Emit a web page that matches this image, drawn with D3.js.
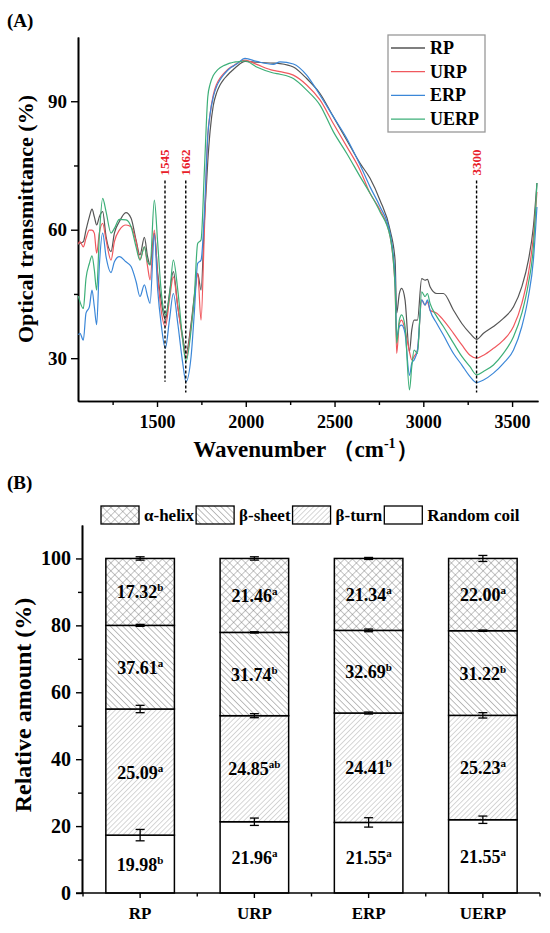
<!DOCTYPE html>
<html>
<head>
<meta charset="utf-8">
<script src="https://cdn.jsdelivr.net/npm/d3@7"></script>
<style>
  body { margin: 0; background: #fff; }
  svg { display: block; font-family: "Liberation Serif", "Times New Roman", serif; font-weight: bold; }
</style>
</head>
<body>
<div id="chart"></div>
<script>
// ---------- (A) FTIR spectra ----------
var wavenumbers = [
  1057, 1066, 1085, 1100, 1119, 1134, 1147, 1160, 1175, 1194,
  1213, 1241, 1260, 1288, 1325, 1354, 1382, 1404, 1429, 1447,
  1461, 1485, 1504, 1523, 1547, 1570, 1592, 1617, 1645, 1663,
  1692, 1710, 1729, 1748, 1767, 1786, 1799, 1817, 1836, 1855,
  1874, 1893, 1911, 1930, 1949, 1996, 2061, 2155, 2193, 2268,
  2343, 2418, 2493, 2569, 2644, 2700, 2756, 2813, 2841, 2850,
  2865, 2878, 2897, 2922, 2935, 2948, 2967, 2991, 3010, 3023,
  3038, 3076, 3113, 3170, 3217, 3263, 3300, 3339, 3395, 3451,
  3508, 3555, 3592, 3620, 3640
];

var rp = [
  56.5, 56.8, 57.2, 59.9, 63.0, 64.8, 63.0, 61.1, 63.0, 64.2,
  58.4, 54.9, 59.2, 61.9, 64.0, 62.7, 57.6, 54.1, 58.2, 53.7,
  51.8, 59.2, 49.8, 43.6, 38.9, 45.1, 50.2, 42.0, 35.0, 31.1,
  38.1, 44.4, 49.8, 45.9, 62.0, 76.0, 83.0, 89.0, 92.0, 93.8,
  95.0, 95.9, 96.7, 97.4, 98.1, 99.3, 99.1, 98.9, 98.8, 98.0,
  95.3, 91.8, 86.4, 80.9, 75.5, 72.0, 66.9, 59.9, 52.9, 40.5,
  45.1, 46.3, 43.6, 31.5, 36.6, 38.9, 38.9, 48.6, 48.2, 48.4,
  46.7, 45.1, 45.1, 41.2, 38.1, 35.8, 34.4, 35.8, 37.4, 39.3,
  42.0, 46.7, 52.9, 60.7, 70.9
];

var urp = [
  56.7, 57.2, 56.0, 58.0, 59.9, 59.9, 59.2, 54.5, 59.2, 61.5,
  57.6, 52.9, 57.2, 59.9, 61.1, 60.7, 57.2, 53.1, 56.0, 51.4,
  48.3, 59.9, 49.0, 41.3, 37.4, 43.6, 49.0, 42.0, 34.2, 30.0,
  37.4, 43.6, 49.8, 38.9, 60.0, 82.0, 87.0, 91.5, 94.0, 95.4,
  96.4, 97.2, 97.8, 98.3, 98.8, 99.6, 98.6, 97.2, 96.9, 96.1,
  93.8, 90.3, 84.8, 79.4, 73.9, 68.5, 64.6, 58.4, 46.7, 31.1,
  38.1, 38.9, 36.6, 31.5, 29.6, 30.4, 31.9, 43.6, 42.4, 43.2,
  41.2, 40.5, 38.9, 35.8, 33.1, 30.7, 30.0, 30.7, 32.3, 34.2,
  37.4, 42.8, 49.8, 58.4, 68.8
];

var erp = [
  35.5, 35.8, 34.2, 40.5, 42.0, 45.9, 42.0, 37.8, 51.4, 59.2,
  53.7, 50.0, 52.5, 53.7, 52.5, 51.4, 47.9, 44.4, 47.1, 44.4,
  42.8, 58.8, 45.9, 38.1, 32.3, 38.9, 45.1, 38.1, 28.8, 24.5,
  30.4, 40.5, 52.1, 52.9, 64.0, 82.0, 87.0, 91.0, 93.5, 95.0,
  96.1, 97.0, 97.7, 98.2, 98.7, 100.0, 99.3, 98.6, 99.2, 98.7,
  96.1, 91.4, 86.4, 81.3, 75.1, 70.0, 65.4, 59.1, 49.0, 35.0,
  37.4, 37.7, 35.8, 26.0, 28.8, 29.6, 31.9, 43.6, 42.4, 43.6,
  41.2, 38.1, 35.4, 31.1, 28.4, 25.7, 24.3, 24.9, 26.5, 28.8,
  31.9, 37.4, 44.4, 52.9, 65.3
];

var uerp = [
  44.5, 43.2, 41.6, 48.6, 52.1, 53.9, 50.6, 45.9, 58.4, 67.3,
  64.2, 59.2, 60.3, 62.4, 62.3, 60.7, 56.0, 52.9, 56.0, 52.5,
  51.8, 66.9, 56.8, 45.9, 40.1, 44.4, 52.9, 45.9, 34.2, 29.2,
  36.6, 44.4, 56.8, 57.6, 74.0, 91.0, 94.0, 96.0, 97.1, 97.8,
  98.3, 98.6, 98.9, 99.1, 99.2, 99.4, 98.0, 96.6, 96.3, 95.3,
  92.6, 89.1, 82.9, 77.8, 72.4, 68.5, 64.2, 58.4, 46.7, 33.5,
  38.9, 40.1, 37.4, 22.6, 28.0, 31.9, 31.1, 45.5, 44.4, 45.1,
  42.8, 39.7, 37.4, 33.5, 30.4, 28.0, 26.1, 26.9, 28.4, 31.1,
  35.0, 40.5, 47.5, 56.0, 70.9
];

var seriesNames = ["RP", "URP", "ERP", "UERP"];
var seriesColors = ["#555555", "#f0585e", "#3b87d8", "#3daf78"];

var peakWaves = [1545, 1662, 3300];
var peakBottoms = [24.5, 22, 22];
var peakTop = 71.5;

var xTicksA = [1500, 2000, 2500, 3000, 3500];
var xMinorA = [1250, 1750, 2250, 2750, 3250];
var yTicksA = [30, 60, 90];
var yMinorA = [45, 75];

// ---------- (B) secondary structure ----------
var groups = ["RP", "URP", "ERP", "UERP"];
var structKeys = ["coil", "turn", "sheet", "helix"];
var coilPct = [17.3, 21.3, 21.1, 21.9];
var turnPct = [37.7, 31.7, 32.7, 31.2];
var sheetPct = [25.0, 24.9, 24.7, 25.3];
var helixPct = [20.0, 22.1, 21.5, 21.6];
var coilErr = [1.7, 1.1, 1.4, 1.1];
var turnErr = [1.1, 0.6, 0.3, 0.8];
var sheetErr = [0.3, 0.2, 0.4, 0.2];
var helixErr = [0.5, 0.5, 0.3, 0.9];
var coilLab = ["19.98", "21.96", "21.55", "21.55"];
var coilSup = ["b", "a", "a", "a"];
var turnLab = ["25.09", "24.85", "24.41", "25.23"];
var turnSup = ["a", "ab", "b", "a"];
var sheetLab = ["37.61", "31.74", "32.69", "31.22"];
var sheetSup = ["a", "b", "b", "b"];
var helixLab = ["17.32", "21.46", "21.34", "22.00"];
var helixSup = ["b", "a", "a", "a"];
var legendNames = ["α-helix", "β-sheet", "β-turn", "Random coil"];
var legendKeys = ["helix", "sheet", "turn", "coil"];
var yTicksB = [0, 20, 40, 60, 80, 100];
var yMinorB = [10, 30, 50, 70, 90];

var svg = d3.select("#chart").append("svg")
  .attr("width", 550)
  .attr("height", 933);

// hatch patterns
var defs = svg.append("defs");
function hatch(id, size, angle, color) {
  var p = defs.append("pattern")
    .attr("id", id)
    .attr("patternUnits", "userSpaceOnUse")
    .attr("width", size)
    .attr("height", size)
    .attr("patternTransform", "rotate(" + angle + ")");
  p.append("rect").attr("width", size).attr("height", size).attr("fill", "#fff");
  p.append("line")
    .attr("x1", 0).attr("y1", 0).attr("x2", 0).attr("y2", size)
    .attr("stroke", color).attr("stroke-width", 0.8);
  return p;
}
hatch("turnPat", 3.6, 45, "#9a9a9a");
hatch("sheetPat", 4.4, -45, "#5a5a5a");
var cp = hatch("helixPat", 5.6, 45, "#707070");
cp.append("line")
  .attr("x1", 0).attr("y1", 0).attr("x2", 5.6).attr("y2", 0)
  .attr("stroke", "#707070").attr("stroke-width", 0.8);

var fills = { coil: "#fff", turn: "url(#turnPat)", sheet: "url(#sheetPat)", helix: "url(#helixPat)" };

function styleAxis(g, size) {
  g.attr("font-family", null);
  g.selectAll("path.domain").attr("stroke", "#000").attr("stroke-width", 1.6);
  g.selectAll(".tick line").attr("stroke", "#000").attr("stroke-width", 1.4);
  g.selectAll(".tick text")
    .attr("fill", "#000")
    .style("font-family", "'Liberation Serif', 'Times New Roman', serif")
    .style("font-weight", "bold")
    .style("font-size", size + "px");
}

// ================= Panel A =================
var xA = d3.scaleLinear().domain([1055, 3646]).range([78, 538]);
var yA = d3.scaleLinear().domain([20, 105]).range([401, 37]);

var gA = svg.append("g");

gA.append("g")
  .attr("transform", "translate(0,401)")
  .call(d3.axisBottom(xA).tickValues(xMinorA).tickSize(4).tickFormat("").tickSizeOuter(0))
  .call(styleAxis, 18);
gA.append("g")
  .attr("transform", "translate(0,401)")
  .call(d3.axisBottom(xA).tickValues(xTicksA).tickSize(6).tickPadding(8)
    .tickFormat(d3.format("d")).tickSizeOuter(0))
  .call(styleAxis, 18);

gA.append("g")
  .attr("transform", "translate(78,0)")
  .call(d3.axisLeft(yA).tickValues(yMinorA).tickSize(4).tickFormat("").tickSizeOuter(0))
  .call(styleAxis, 19);
gA.append("g")
  .attr("transform", "translate(78,0)")
  .call(d3.axisLeft(yA).tickValues(yTicksA).tickSize(7).tickPadding(4).tickSizeOuter(0))
  .call(styleAxis, 19);

var allSeries = [rp, urp, erp, uerp];
var line = d3.line()
  .x(function(d, i) { return xA(wavenumbers[i]); })
  .y(function(d) { return yA(d); })
  .curve(d3.curveMonotoneX);

gA.selectAll(".spec")
  .data(allSeries)
  .enter()
  .append("path")
  .attr("class", "spec")
  .attr("d", line)
  .attr("fill", "none")
  .attr("stroke", function(d, i) { return seriesColors[i]; })
  .attr("stroke-width", 1.2);

// dashed marker lines
peakWaves.forEach(function(w, i) {
  gA.append("line")
    .attr("x1", xA(w)).attr("x2", xA(w))
    .attr("y1", yA(peakTop)).attr("y2", yA(peakBottoms[i]))
    .attr("stroke", "#000")
    .attr("stroke-width", 1.4)
    .attr("stroke-dasharray", "3,2");
  gA.append("text")
    .attr("transform", "translate(" + (xA(w) + 4.5) + "," + (yA(peakTop) - 5) + ") rotate(-90)")
    .attr("fill", "#e8202a")
    .style("font-size", "13px")
    .text(w);
});

// legend A
var legA = gA.append("g");
legA.append("rect")
  .attr("x", 388).attr("y", 35).attr("width", 97).attr("height", 97)
  .attr("fill", "#fff").attr("stroke", "#999").attr("stroke-width", 1.3);
seriesNames.forEach(function(n, i) {
  var cy = 48 + i * 23.7;
  legA.append("line")
    .attr("x1", 391).attr("x2", 425).attr("y1", cy).attr("y2", cy)
    .attr("stroke", seriesColors[i]).attr("stroke-width", 1.3);
  legA.append("text")
    .attr("x", 430).attr("y", cy + 6)
    .style("font-size", "18px")
    .text(n);
});

// titles A
svg.append("text").attr("x", 7).attr("y", 27).style("font-size", "19px").text("(A)");
svg.append("text")
  .attr("transform", "translate(33,219) rotate(-90)")
  .attr("text-anchor", "middle")
  .style("font-size", "22px")
  .text("Optical transmittance (%)");
var xt = svg.append("text")
  .attr("x", 306).attr("y", 457)
  .attr("text-anchor", "middle")
  .style("font-size", "23px");
xt.append("tspan").text("Wavenumber \uFF08cm");
xt.append("tspan").attr("dy", -9).style("font-size", "14px").text("-1");
xt.append("tspan").attr("dy", 9).text("\uFF09");

// ================= Panel B =================
var yB = d3.scaleLinear().domain([0, 110]).range([893, 525]);
var xB = d3.scaleBand().domain(groups).range([83, 540]).paddingInner(0.4).paddingOuter(0.2);

var table = groups.map(function(g, i) {
  return { group: g, coil: coilPct[i], turn: turnPct[i], sheet: sheetPct[i], helix: helixPct[i] };
});
var stacked = d3.stack().keys(structKeys)(table);

var errs = { coil: coilErr, turn: turnErr, sheet: sheetErr, helix: helixErr };
var labs = { coil: coilLab, turn: turnLab, sheet: sheetLab, helix: helixLab };
var sups = { coil: coilSup, turn: turnSup, sheet: sheetSup, helix: helixSup };

var gB = svg.append("g");

var layer = gB.selectAll(".layer")
  .data(stacked)
  .enter()
  .append("g")
  .attr("class", "layer");

layer.selectAll("rect")
  .data(function(d) { return d; })
  .enter()
  .append("rect")
  .attr("x", function(d) { return xB(d.data.group); })
  .attr("width", xB.bandwidth())
  .attr("y", function(d) { return yB(d[1]); })
  .attr("height", function(d) { return yB(d[0]) - yB(d[1]); })
  .attr("fill", function() { return fills[d3.select(this.parentNode).datum().key]; })
  .attr("stroke", "#000")
  .attr("stroke-width", 1.5);

// value labels
stacked.forEach(function(s) {
  s.forEach(function(d, i) {
    var t = gB.append("text")
      .attr("x", xB(d.data.group) + xB.bandwidth() / 2)
      .attr("y", yB((d[0] + d[1]) / 2) + 6.5)
      .attr("text-anchor", "middle")
      .style("font-size", "18px");
    t.append("tspan").text(labs[s.key][i]);
    t.append("tspan").attr("dy", -7).style("font-size", "11px").text(sups[s.key][i]);
  });
});

// error bars
stacked.forEach(function(s) {
  s.forEach(function(d, i) {
    var cx = xB(d.data.group) + xB.bandwidth() / 2;
    var e = errs[s.key][i];
    var y1 = yB(d[1] + e), y2 = yB(d[1] - e);
    var eb = gB.append("g").attr("stroke", "#000").attr("stroke-width", 1.3);
    eb.append("line").attr("x1", cx).attr("x2", cx).attr("y1", y1).attr("y2", y2);
    eb.append("line").attr("x1", cx - 4.5).attr("x2", cx + 4.5).attr("y1", y1).attr("y2", y1);
    eb.append("line").attr("x1", cx - 4.5).attr("x2", cx + 4.5).attr("y1", y2).attr("y2", y2);
  });
});

// axes B
gB.append("g")
  .attr("transform", "translate(82,0)")
  .call(d3.axisLeft(yB).tickValues(yMinorB).tickSize(4).tickFormat("").tickSizeOuter(0))
  .call(styleAxis, 19);
gB.append("g")
  .attr("transform", "translate(82,0)")
  .call(d3.axisLeft(yB).tickValues(yTicksB).tickSize(6).tickPadding(5).tickSizeOuter(0))
  .call(styleAxis, 20);

var xAxisB = gB.append("g")
  .attr("transform", "translate(0,893)")
  .call(d3.axisBottom(xB).tickSize(5).tickPadding(9).tickSizeOuter(0))
  .call(styleAxis, 17);
xAxisB.select("path.domain").attr("d", "M76,0H540");

var bounds = groups.map(function(g) { return xB(g) + xB.bandwidth() / 2 - xB.step() / 2; });
bounds.push(xB(groups[groups.length - 1]) + xB.bandwidth() / 2 + xB.step() / 2);
xAxisB.selectAll(".minor")
  .data(bounds)
  .enter()
  .append("line")
  .attr("class", "minor")
  .attr("x1", function(d) { return d; }).attr("x2", function(d) { return d; })
  .attr("y1", 0).attr("y2", 3.5)
  .attr("stroke", "#000").attr("stroke-width", 1.4);

// legend B
var legB = svg.append("g");
var lx = 101;
legendKeys.forEach(function(k, i) {
  legB.append("rect")
    .attr("x", lx).attr("y", 506).attr("width", 38).attr("height", 18)
    .attr("fill", fills[k]).attr("stroke", "#000").attr("stroke-width", 1.3);
  var t = legB.append("text")
    .attr("x", lx + 43).attr("y", 521)
    .style("font-size", "17px")
    .text(legendNames[i]);
  lx = lx + 43 + t.node().getComputedTextLength() + 2;
});

svg.append("text").attr("x", 7).attr("y", 489).style("font-size", "19px").text("(B)");
svg.append("text")
  .attr("transform", "translate(31,705) rotate(-90)")
  .attr("text-anchor", "middle")
  .style("font-size", "24px")
  .text("Relative amount (%)");
</script>
</body>
</html>
